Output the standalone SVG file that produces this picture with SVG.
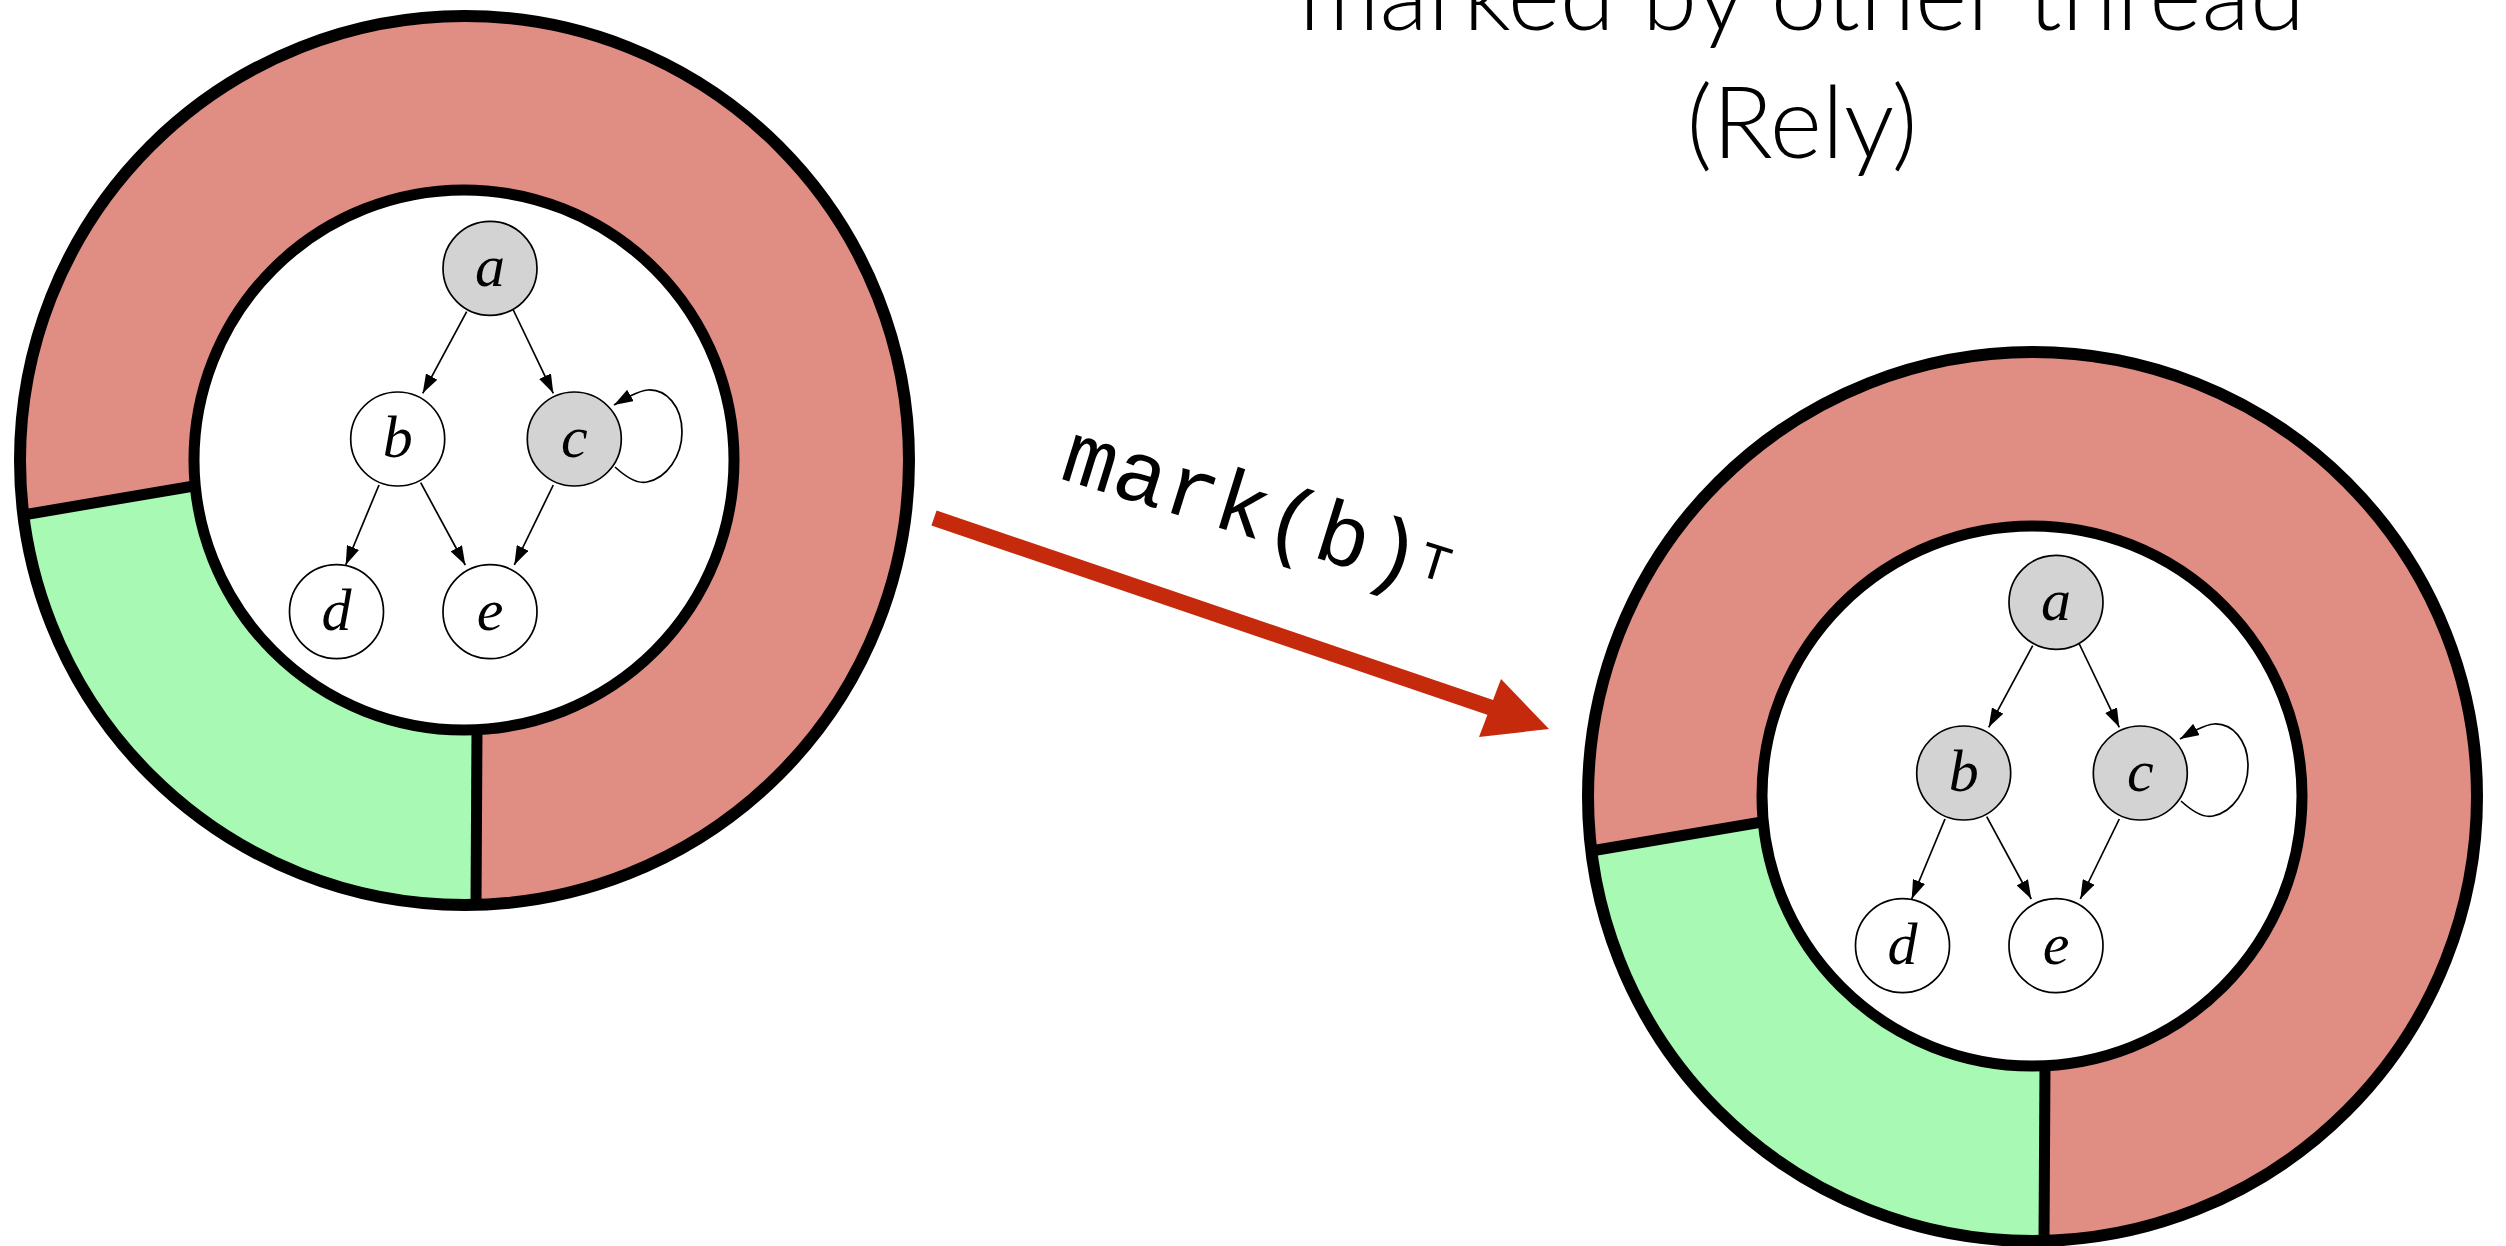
<svg xmlns="http://www.w3.org/2000/svg" width="2506" height="1246" viewBox="0 0 2506 1246">
<style>
.bg{fill:#ffffff}
.red{fill:#E08D84;stroke:none}
.green{fill:#A8F9B4;stroke:none}
.hole{fill:#ffffff;stroke:none}
.ringline{fill:none;stroke:#000;stroke-width:12}
.holeline{fill:none;stroke:#000;stroke-width:11}
.divider{stroke:#000;stroke-width:11;fill:none}
.node circle{stroke:#000;stroke-width:1.7}
.marked circle{fill:#D3D3D3}
.unmarked circle{fill:#ffffff}
.node text{font-family:"Liberation Serif","Times New Roman",serif;font-style:italic;font-size:60px;text-anchor:middle;fill:#000}
.edge{fill:none;stroke:#000;stroke-width:1.7;marker-end:url(#ah)}
.title{font-family:Lato,"Open Sans",sans-serif;font-weight:300;font-size:100px;text-anchor:middle;fill:#000}
.code{font-family:"Liberation Mono","Courier New",monospace;font-style:normal;font-weight:normal;font-size:88px;fill:#000}
</style>
<defs>
<marker id="ah" viewBox="0 0 19 13" refX="19" refY="6.5" markerWidth="19" markerHeight="13" markerUnits="userSpaceOnUse" orient="auto">
<path d="M0,0 L19,6.5 L0,13 Z" fill="#000"/>
</marker>
<g id="ring">
<circle class="red" cx="464.5" cy="460.5" r="444.5"/>
<path class="green" d="M477,730 L476,904 A444.5 444.5 0 0 1 22,515 L195,486 A270 270 0 0 0 477,730 Z"/>
<circle class="hole" cx="464" cy="460" r="270"/>
<line class="divider" x1="477" y1="728" x2="476" y2="906"/>
<line class="divider" x1="20" y1="515.5" x2="197" y2="485.5"/>
<circle class="ringline" cx="464.5" cy="460.5" r="444.5"/>
<circle class="holeline" cx="464" cy="460" r="270"/>
</g>
</defs>
<rect class="bg" x="0" y="0" width="2506" height="1246"/>

<g id="title">
<text class="title" x="1802" y="30">marked by other thread</text>
<text class="title" x="1802" y="158">(Rely)</text>
</g>

<g id="state-before-ring"><use href="#ring"/></g>
<g id="state-after-ring" transform="translate(1568,336)"><use href="#ring"/></g>

<g id="connectors">
<g id="edges-before">
<path class="edge" d="M466.7,311.7 L422.7,393.3"/>
<path class="edge" d="M513.3,310 L553.3,393.3"/>
<path class="edge" d="M379,485 L345.7,565"/>
<path class="edge" d="M420.7,482.7 L465.3,565"/>
<path class="edge" d="M553.3,485 L514.3,565"/>
<path class="edge" d="M615,467 C628,479 638,484 647,482 C667,478 682,456 682,432 C682,406 666,389 648,390 C638,391 626,398 614,405"/>
</g>
<g id="edges-after" transform="translate(1566,334)">
<path class="edge" d="M466.7,311.7 L422.7,393.3"/>
<path class="edge" d="M513.3,310 L553.3,393.3"/>
<path class="edge" d="M379,485 L345.7,565"/>
<path class="edge" d="M420.7,482.7 L465.3,565"/>
<path class="edge" d="M553.3,485 L514.3,565"/>
<path class="edge" d="M615,467 C628,479 638,484 647,482 C667,478 682,456 682,432 C682,406 666,389 648,390 C638,391 626,398 614,405"/>
</g>
<g id="transition-arrow">
<line x1="934" y1="518" x2="1492" y2="708" stroke="#C62A0C" stroke-width="16"/>
<polygon points="1549,729 1501,679 1479,737" fill="#C62A0C"/>
<text class="code" transform="translate(1058,478) rotate(17.2)">mark(b)<tspan font-size="52" dy="-14">T</tspan></text>
</g>
</g>

<g id="nodes-before">
<g id="before-a" class="node marked"><circle cx="490" cy="268.3" r="47"/><text x="490" y="286">a</text></g>
<g id="before-b" class="node unmarked"><circle cx="397.7" cy="439" r="47"/><text x="397.7" y="457">b</text></g>
<g id="before-c" class="node marked"><circle cx="574.3" cy="439" r="47"/><text x="574.3" y="457">c</text></g>
<g id="before-d" class="node unmarked"><circle cx="336.5" cy="611.7" r="47"/><text x="336.5" y="629.5">d</text></g>
<g id="before-e" class="node unmarked"><circle cx="490" cy="611.7" r="47"/><text x="490" y="629.5">e</text></g>
</g>
<g id="nodes-after" transform="translate(1566,334)">
<g id="after-a" class="node marked"><circle cx="490" cy="268.3" r="47"/><text x="490" y="286">a</text></g>
<g id="after-b" class="node marked"><circle cx="397.7" cy="439" r="47"/><text x="397.7" y="457">b</text></g>
<g id="after-c" class="node marked"><circle cx="574.3" cy="439" r="47"/><text x="574.3" y="457">c</text></g>
<g id="after-d" class="node unmarked"><circle cx="336.5" cy="611.7" r="47"/><text x="336.5" y="629.5">d</text></g>
<g id="after-e" class="node unmarked"><circle cx="490" cy="611.7" r="47"/><text x="490" y="629.5">e</text></g>
</g>
</svg>
